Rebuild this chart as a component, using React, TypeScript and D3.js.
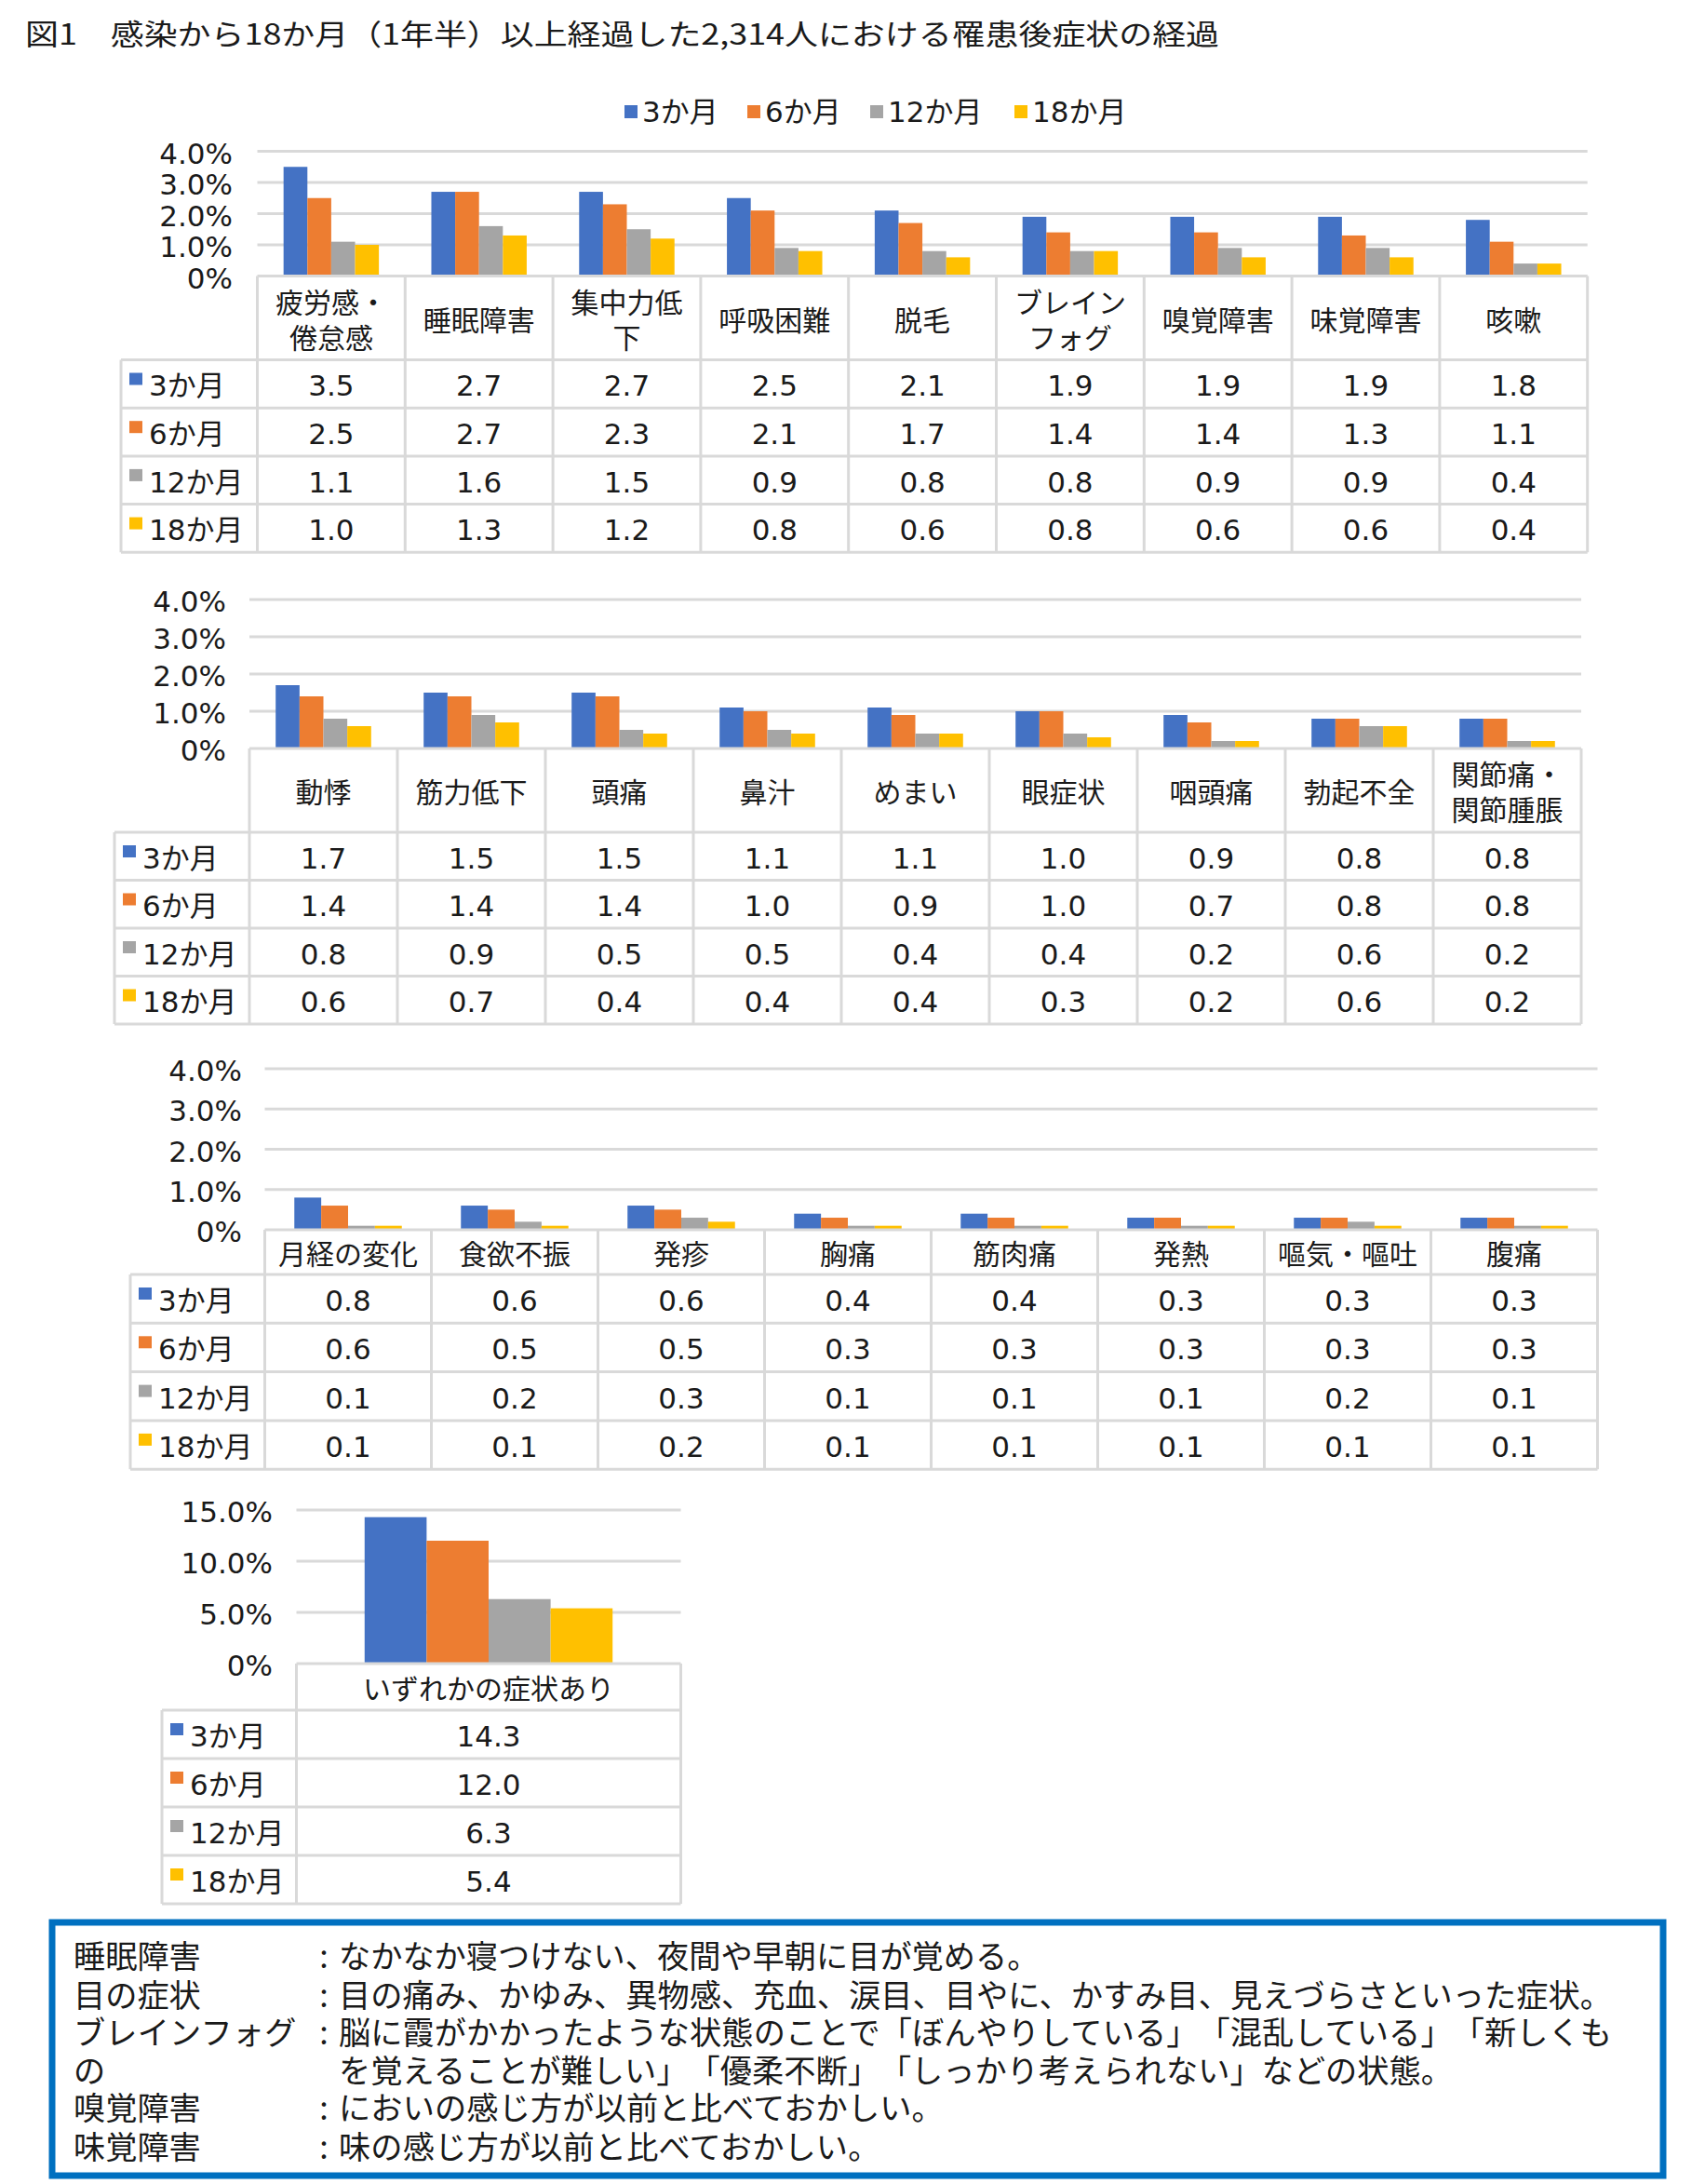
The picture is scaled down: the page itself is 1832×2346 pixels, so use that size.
import React from "react";
import * as d3 from "d3";

// ---------- data ----------
const SERIES = ["3か月", "6か月", "12か月", "18か月"];
const COLORS = ["#4472C4", "#ED7D31", "#A5A5A5", "#FFC000"];

const CATS1 = [["疲労感・", "倦怠感"], ["睡眠障害"], ["集中力低", "下"], ["呼吸困難"], ["脱毛"], ["ブレイン", "フォグ"], ["嗅覚障害"], ["味覚障害"], ["咳嗽"]];
const P1_3M = [3.5, 2.7, 2.7, 2.5, 2.1, 1.9, 1.9, 1.9, 1.8];
const P1_6M = [2.5, 2.7, 2.3, 2.1, 1.7, 1.4, 1.4, 1.3, 1.1];
const P1_12M = [1.1, 1.6, 1.5, 0.9, 0.8, 0.8, 0.9, 0.9, 0.4];
const P1_18M = [1.0, 1.3, 1.2, 0.8, 0.6, 0.8, 0.6, 0.6, 0.4];

const CATS2 = [["動悸"], ["筋力低下"], ["頭痛"], ["鼻汁"], ["めまい"], ["眼症状"], ["咽頭痛"], ["勃起不全"], ["関節痛・", "関節腫脹"]];
const P2_3M = [1.7, 1.5, 1.5, 1.1, 1.1, 1.0, 0.9, 0.8, 0.8];
const P2_6M = [1.4, 1.4, 1.4, 1.0, 0.9, 1.0, 0.7, 0.8, 0.8];
const P2_12M = [0.8, 0.9, 0.5, 0.5, 0.4, 0.4, 0.2, 0.6, 0.2];
const P2_18M = [0.6, 0.7, 0.4, 0.4, 0.4, 0.3, 0.2, 0.6, 0.2];

const CATS3 = [["月経の変化"], ["食欲不振"], ["発疹"], ["胸痛"], ["筋肉痛"], ["発熱"], ["嘔気・嘔吐"], ["腹痛"]];
const P3_3M = [0.8, 0.6, 0.6, 0.4, 0.4, 0.3, 0.3, 0.3];
const P3_6M = [0.6, 0.5, 0.5, 0.3, 0.3, 0.3, 0.3, 0.3];
const P3_12M = [0.1, 0.2, 0.3, 0.1, 0.1, 0.1, 0.2, 0.1];
const P3_18M = [0.1, 0.1, 0.2, 0.1, 0.1, 0.1, 0.1, 0.1];

const CATS4 = [["いずれかの症状あり"]];
const P4_3M = [14.3];
const P4_6M = [12.0];
const P4_12M = [6.3];
const P4_18M = [5.4];

const TICKS_SMALL = [0, 1, 2, 3, 4];
const TICKS_LARGE = [0, 5, 10, 15];

const TITLE = "図1　感染から18か月（1年半）以上経過した2,314人における罹患後症状の経過";

const NOTE_TERMS = ["睡眠障害", "目の症状", "ブレインフォグ", "の", "嗅覚障害", "味覚障害"];
const NOTE_COLONS = [true, true, true, false, true, true];
const NOTE_TEXTS = [
  "なかなか寝つけない、夜間や早朝に目が覚める。",
  "目の痛み、かゆみ、異物感、充血、涙目、目やに、かすみ目、見えづらさといった症状。",
  "脳に霞がかかったような状態のことで「ぼんやりしている」「混乱している」「新しくも",
  "を覚えることが難しい」「優柔不断」「しっかり考えられない」などの状態。",
  "においの感じ方が以前と比べておかしい。",
  "味の感じ方が以前と比べておかしい。",
];

// ---------- styles ----------
const JP = "'Noto Sans CJK JP', sans-serif";
const NUM = "'DejaVu Sans', 'Noto Sans CJK JP', sans-serif";
const GRID = "#D9D9D9";
const TEXT = "#1a1a1a";
const NOTE_FS = 34.2;

const tickFmt = (v: number) => (v === 0 ? "0%" : d3.format(".1f")(v) + "%");
const valFmt = d3.format(".1f");

type Layout = {
  yTop: number; yBase: number; colX: number; colW: number; labelX: number;
  headerH: number; rowH: number; tickRight: number; yMax: number; ticks: number[];
};

function Panel({ cats, series, L }: { cats: string[][]; series: number[][]; L: Layout }) {
  const n = cats.length;
  const right = L.colX + n * L.colW;
  const x = d3.scaleBand<number>().domain(d3.range(n)).range([L.colX, right]);
  const xi = d3.scaleBand<number>().domain(d3.range(SERIES.length)).range([0, x.bandwidth()]).paddingOuter(1.1);
  const y = d3.scaleLinear().domain([0, L.yMax]).range([L.yBase, L.yTop]);
  const tableBottom = L.yBase + L.headerH + SERIES.length * L.rowH;
  const rowTop = (r: number) => L.yBase + L.headerH + r * L.rowH;
  return (
    <g>
      {L.ticks.filter((t) => t > 0).map((t) => (
        <line key={"g" + t} x1={L.colX} x2={right} y1={y(t)} y2={y(t)} stroke={GRID} strokeWidth={3} />
      ))}
      {L.ticks.map((t) => (
        <text key={"t" + t} x={L.tickRight} y={y(t) + 2} textAnchor="end" dominantBaseline="central"
          fontFamily={NUM} fontSize={31} fill={TEXT}>{tickFmt(t)}</text>
      ))}
      {series.map((vals, s) =>
        vals.map((v, i) => (
          <rect key={s + "-" + i} x={(x(i) as number) + (xi(s) as number)} width={xi.bandwidth()}
            y={y(v)} height={L.yBase - y(v)} fill={COLORS[s]} />
        ))
      )}
      {/* table grid */}
      <line x1={L.colX} x2={right} y1={L.yBase} y2={L.yBase} stroke={GRID} strokeWidth={3} />
      {d3.range(SERIES.length + 1).map((r) => (
        <line key={"h" + r} x1={L.labelX} x2={right} y1={rowTop(r)} y2={rowTop(r)} stroke={GRID} strokeWidth={3} />
      ))}
      <line x1={L.labelX} x2={L.labelX} y1={rowTop(0)} y2={tableBottom} stroke={GRID} strokeWidth={3} />
      {d3.range(n + 1).map((i) => (
        <line key={"v" + i} x1={L.colX + i * L.colW} x2={L.colX + i * L.colW} y1={L.yBase} y2={tableBottom}
          stroke={GRID} strokeWidth={3} />
      ))}
      {/* headers */}
      {cats.map((lines, i) => {
        const cx = (x(i) as number) + x.bandwidth() / 2;
        const cy = L.yBase + L.headerH / 2;
        const lh = 38;
        return lines.map((ln, k) => (
          <text key={"c" + i + k} x={cx} y={cy + (k - (lines.length - 1) / 2) * lh} textAnchor="middle"
            dominantBaseline="central" fontFamily={JP} fontSize={30} fill={TEXT}>{ln}</text>
        ));
      })}
      {/* rows */}
      {SERIES.map((name, s) => (
        <g key={"r" + s}>
          <rect x={L.labelX + 9} y={rowTop(s) + 14} width={14} height={13} fill={COLORS[s]} />
          <text x={L.labelX + 30} y={rowTop(s) + L.rowH / 2 + 2} dominantBaseline="central"
            fontFamily={NUM} fontSize={31} fill={TEXT}>{name}</text>
          {series[s].map((v, i) => (
            <text key={i} x={(x(i) as number) + x.bandwidth() / 2} y={rowTop(s) + L.rowH / 2 + 2}
              textAnchor="middle" dominantBaseline="central" fontFamily={NUM} fontSize={31} fill={TEXT}>
              {valFmt(v)}
            </text>
          ))}
        </g>
      ))}
    </g>
  );
}

const L1: Layout = { yTop: 162.5, yBase: 296.5, colX: 276.5, colW: 158.8, labelX: 130, headerH: 90, rowH: 51.7, tickRight: 250, yMax: 4, ticks: TICKS_SMALL };
const L2: Layout = { yTop: 644, yBase: 804, colX: 268, colW: 159, labelX: 123, headerH: 90, rowH: 51.5, tickRight: 243, yMax: 4, ticks: TICKS_SMALL };
const L3: Layout = { yTop: 1148, yBase: 1321, colX: 284.5, colW: 179, labelX: 140, headerH: 48, rowH: 52.3, tickRight: 260, yMax: 4, ticks: TICKS_SMALL };
const L4: Layout = { yTop: 1622, yBase: 1787, colX: 318.5, colW: 413, labelX: 174, headerH: 50, rowH: 52, tickRight: 293, yMax: 15, ticks: TICKS_LARGE };

const LEGEND_X = [671, 803, 935, 1090];
const NOTE_Y = [2099, 2141, 2181, 2222, 2262, 2304];

export default function App() {
  return (
    <svg width={1832} height={2346} viewBox="0 0 1832 2346"
      style={{ position: "absolute", left: 0, top: 0, background: "#fff" }}>
      <rect width={1832} height={2346} fill="#fff" />
      <text x={27} y={34} dominantBaseline="central" fontFamily={JP} fontSize={31} fill={TEXT}
        textLength={1283} lengthAdjust="spacingAndGlyphs">{TITLE}</text>
      {/* legend */}
      {SERIES.map((s, i) => (
        <g key={s}>
          <rect x={LEGEND_X[i]} y={113} width={14} height={14} fill={COLORS[i]} />
          <text x={LEGEND_X[i] + 19} y={120} dominantBaseline="central" fontFamily={NUM} fontSize={31} fill={TEXT}>{s}</text>
        </g>
      ))}
      <Panel cats={CATS1} series={[P1_3M, P1_6M, P1_12M, P1_18M]} L={L1} />
      <Panel cats={CATS2} series={[P2_3M, P2_6M, P2_12M, P2_18M]} L={L2} />
      <Panel cats={CATS3} series={[P3_3M, P3_6M, P3_12M, P3_18M]} L={L3} />
      <Panel cats={CATS4} series={[P4_3M, P4_6M, P4_12M, P4_18M]} L={L4} />
      {/* note box */}
      <rect x={56} y={2065} width={1731} height={272} fill="none" stroke="#0070C0" strokeWidth={7} />
      {NOTE_TERMS.map((t, i) => (
        <g key={"n" + i} style={{ textSpacingTrim: "space-all" } as any}>
          <text x={79} y={NOTE_Y[i]} dominantBaseline="central" fontFamily={JP} fontSize={NOTE_FS} fill={TEXT}
            textLength={Array.from(t).length * NOTE_FS} lengthAdjust="spacing">{t}</text>
          {NOTE_COLONS[i] && (
            <text x={348} y={NOTE_Y[i]} textAnchor="middle" dominantBaseline="central" fontFamily={JP} fontSize={NOTE_FS} fill={TEXT}>:</text>
          )}
          <text x={364} y={NOTE_Y[i]} dominantBaseline="central" fontFamily={JP} fontSize={NOTE_FS} fill={TEXT}
            textLength={Array.from(NOTE_TEXTS[i]).length * NOTE_FS} lengthAdjust="spacing">{NOTE_TEXTS[i]}</text>
        </g>
      ))}
    </svg>
  );
}
